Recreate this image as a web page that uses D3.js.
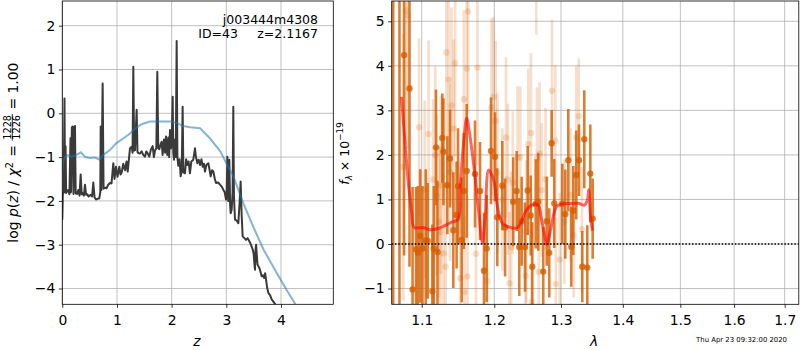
<!DOCTYPE html>
<html>
<head>
<meta charset="utf-8">
<script src="https://cdn.jsdelivr.net/npm/d3@7.9.0/dist/d3.min.js"></script>
<style>
  body { margin: 0; background: #fff; }
  svg { display: block; font-family: "DejaVu Sans", sans-serif; }
</style>
</head>
<body>
<svg id="chart" width="800" height="350"></svg>
<script>
// ---- left panel: log p(z) and prior ----
const pzCurve = [
  [0.000,-2.43],[0.010,-1.85],[0.025,-1.79],[0.040,0.34],[0.050,-1.80],[0.060,-0.75],[0.070,-1.82],
  [0.090,-1.78],[0.110,-1.75],[0.130,-1.85],[0.150,-0.57],[0.160,-1.80],[0.175,-0.32],[0.190,-0.30],
  [0.205,-1.84],[0.220,-0.32],[0.232,-0.29],[0.245,-1.83],[0.270,-1.84],[0.293,-1.75],[0.315,-1.88],
  [0.336,-1.40],[0.355,-1.85],[0.372,-1.82],[0.395,-1.88],[0.415,-1.63],[0.435,-1.86],[0.458,-1.85],
  [0.480,-1.90],[0.519,-1.86],[0.545,-1.90],[0.567,-1.58],[0.590,-1.92],[0.616,-1.97],[0.650,-1.95],
  [0.677,-1.94],[0.695,-1.80],[0.702,-0.30],[0.715,-1.75],[0.738,0.68],[0.755,-1.72],[0.763,-1.71],
  [0.790,-1.70],[0.811,-1.71],[0.840,-1.63],[0.872,-1.59],[0.900,-1.60],[0.933,-1.14],[0.955,-1.50],
  [0.982,-1.22],[1.010,-1.45],[1.043,-1.22],[1.065,-1.40],[1.086,-1.35],[1.115,-1.15],[1.147,-1.30],
  [1.175,-1.10],[1.196,-1.33],[1.238,-0.80],[1.269,-0.76],[1.285,-0.90],[1.299,1.06],[1.315,-0.85],
  [1.330,-0.84],[1.360,0.08],[1.375,-0.88],[1.391,-0.91],[1.420,-0.92],[1.452,-0.87],[1.480,-0.95],
  [1.513,-0.99],[1.535,-0.87],[1.555,-0.90],[1.575,-0.95],[1.592,-0.99],[1.620,-0.83],[1.653,-0.75],
  [1.675,-1.00],[1.695,-0.85],[1.720,-0.80],[1.738,0.95],[1.755,-0.80],[1.775,-0.82],[1.800,-0.70],
  [1.817,-0.65],[1.835,-0.95],[1.860,-0.60],[1.880,-0.90],[1.897,-0.53],[1.920,-0.95],[1.940,-0.55],
  [1.955,-1.00],[1.970,-0.38],[1.990,-0.80],[2.005,-0.45],[2.019,0.38],[2.030,-0.90],[2.043,-1.06],
  [2.060,-0.60],[2.075,-1.00],[2.092,1.65],[2.105,-1.00],[2.122,-1.20],[2.145,-1.05],[2.165,-1.44],
  [2.185,-1.30],[2.201,0.15],[2.215,-1.35],[2.244,-1.37],[2.265,-1.05],[2.287,-1.18],[2.310,-1.10],
  [2.335,-1.37],[2.360,-1.10],[2.396,-1.06],[2.427,-0.80],[2.445,-1.00],[2.470,-1.14],[2.495,-1.06],
  [2.519,-1.18],[2.545,-1.05],[2.568,-1.22],[2.590,-1.15],[2.610,-1.33],[2.635,-1.18],[2.671,-1.14],
  [2.695,-1.30],[2.714,-1.44],[2.740,-1.30],[2.763,-1.33],[2.790,-1.50],[2.812,-1.59],[2.850,-1.58],
  [2.884,-1.63],[2.920,-1.68],[2.946,-1.75],[2.970,-1.80],[2.994,-1.97],[3.005,-1.90],[3.019,-0.99],
  [3.035,-2.00],[3.055,-1.06],[3.070,-2.10],[3.080,-2.28],[3.098,-2.20],[3.115,-1.80],[3.128,0.15],
  [3.140,-1.90],[3.159,-2.43],[3.190,-2.45],[3.220,-2.51],[3.245,-2.00],[3.262,-1.56],[3.280,-2.30],
  [3.299,-2.81],[3.330,-2.85],[3.360,-2.89],[3.390,-2.85],[3.421,-2.92],[3.450,-3.00],[3.482,-3.11],
  [3.500,-3.20],[3.515,-3.45],[3.525,-3.57],[3.535,-3.10],[3.545,-3.00],[3.555,-3.19],[3.570,-3.45],
  [3.586,-3.49],[3.610,-3.55],[3.647,-3.72],[3.670,-3.70],[3.690,-3.76],[3.710,-3.65],[3.726,-3.80],
  [3.750,-4.00],[3.769,-4.10],[3.800,-4.15],[3.830,-4.25],[3.860,-4.30],[3.891,-4.35],[3.950,-4.50]
];

const priorCurve = [
  [0.007,-1.29],[0.020,-1.06],[0.080,-0.95],[0.170,-0.99],[0.260,-0.95],[0.340,-0.89],[0.420,-1.00],
  [0.510,-1.02],[0.600,-1.01],[0.680,-1.06],[0.750,-0.95],[0.870,-0.84],[0.990,-0.68],[1.120,-0.57],
  [1.240,-0.46],[1.330,-0.35],[1.450,-0.25],[1.600,-0.19],[1.790,-0.19],[1.970,-0.19],[2.090,-0.22],
  [2.210,-0.29],[2.340,-0.32],[2.520,-0.34],[2.700,-0.57],[2.890,-0.87],[3.000,-1.14],[3.130,-1.44],
  [3.310,-2.05],[3.490,-2.58],[3.680,-3.11],[3.920,-3.64],[4.100,-4.03],[4.270,-4.37],[4.400,-4.65]
];

const zTicks = [0, 1, 2, 3, 4];
const logpTicks = [-4, -3, -2, -1, 0, 1, 2];

// ---- right panel: spectrum [wavelength, flux, error] ----
const fluxDark = [
  [1.063,6.00,8.0],[1.071,-1.80,7.5],[1.077,4.24,4.5],[1.084,3.49,4.0],[1.088,-1.02,2.3],[1.0925,-0.12,1.4],
  [1.095,-0.20,1.5],[1.098,0.18,1.5],[1.101,-0.10,1.4],[1.1053,0.08,1.6],[1.108,0.07,1.3],[1.1141,-1.06,1.5],
  [1.116,-0.10,1.4],[1.119,2.17,1.3],[1.121,-0.18,1.6],[1.1275,2.38,1.0],[1.129,2.07,1.2],[1.1343,1.32,1.1],
  [1.138,1.92,1.1],[1.1425,0.31,1.3],[1.147,0.65,1.2],[1.149,1.30,1.3],[1.154,0.09,1.4],[1.157,1.19,1.3],
  [1.161,1.64,1.5],[1.1726,1.57,1.2],[1.1797,1.19,1.1],[1.1853,-0.60,1.3],[1.1891,-0.10,1.2],[1.1953,2.09,1.2],
  [1.201,1.96,1.0],[1.2043,0.60,1.1],[1.2116,1.31,1.0],[1.2156,0.37,1.1],[1.2276,0.95,1.0],[1.2327,1.19,0.9],
  [1.2365,-0.07,1.1],[1.2401,0.51,1.0],[1.2451,-0.07,1.0],[1.2491,1.20,1.0],[1.2536,0.64,0.9],[1.256,-0.51,1.0],
  [1.2611,0.90,1.0],[1.265,0.95,1.1],[1.2726,-0.62,1.0],[1.2779,0.51,1.0],[1.2818,-0.20,1.0],[1.2855,2.26,0.75],
  [1.2895,0.91,1.0],[1.302,0.90,0.9],[1.3067,0.67,1.0],[1.3114,1.88,1.15],[1.3161,-0.06,0.9],[1.3193,0.75,1.0],
  [1.324,1.55,1.0],[1.3283,1.88,0.8],[1.3336,-0.51,0.8],[1.3368,2.35,1.1],[1.3416,-0.53,0.95],[1.3465,1.58,1.1],
  [1.3503,0.57,0.9]
];

const fluxLight = [
  [1.0795,5.25,3.0],[1.082,5.13,3.0],[1.076,1.73,3.0],[1.0965,2.62,2.0],[1.104,1.22,2.0],[1.109,2.47,2.1],
  [1.115,1.45,1.8],[1.118,1.99,2.0],[1.120,1.09,1.8],[1.123,0.50,1.7],[1.125,0.27,1.9],[1.1255,1.32,2.0],
  [1.129,-0.21,1.8],[1.132,-0.51,1.9],[1.133,4.30,1.9],[1.136,3.69,2.1],[1.138,1.61,2.0],[1.140,3.11,2.2],
  [1.143,2.59,2.0],[1.145,4.06,2.1],[1.152,-0.77,1.7],[1.157,3.25,2.0],[1.158,-1.08,1.7],[1.161,3.94,2.2],
  [1.162,-0.73,1.8],[1.163,5.22,2.3],[1.174,-0.22,1.8],[1.176,3.96,2.2],[1.190,-0.83,1.7],[1.196,3.07,2.0],
  [1.199,3.30,1.8],[1.202,2.76,1.8],[1.2045,1.60,1.8],[1.2116,1.00,1.6],[1.217,2.39,1.8],[1.2197,1.45,1.7],
  [1.222,-0.88,1.6],[1.2245,-0.07,1.7],[1.227,1.38,1.6],[1.234,1.94,1.6],[1.238,1.94,1.6],[1.246,-0.71,1.6],
  [1.247,0.28,1.6],[1.250,2.24,1.7],[1.254,2.49,1.8],[1.255,-1.30,1.6],[1.262,6.20,1.5],[1.263,1.92,1.6],
  [1.2658,-0.63,1.6],[1.267,2.03,1.6],[1.270,1.21,1.5],[1.276,1.46,1.6],[1.286,3.44,1.6],[1.291,2.32,1.7],
  [1.292,-0.90,1.5],[1.298,-0.35,1.5],[1.305,0.50,1.4],[1.315,1.10,1.5],[1.320,0.20,1.4],[1.324,2.39,1.6],
  [1.328,2.87,1.3],[1.333,0.33,1.4]
];

const modelLine = [
  [1.0735,3.30],[1.078,2.33],[1.0825,1.37],[1.087,0.69],[1.090,0.37],[1.102,0.37],[1.111,0.32],[1.124,0.36],
  [1.140,0.49],[1.149,0.55],[1.152,1.29],[1.157,2.33],[1.161,2.82],[1.165,2.48],[1.1726,1.52],[1.178,0.69],
  [1.183,0.03],[1.187,0.62],[1.192,1.66],[1.199,1.44],[1.2045,0.84],[1.2116,0.47],[1.2216,0.38],[1.233,0.36],
  [1.240,0.51],[1.246,0.73],[1.255,0.87],[1.265,0.87],[1.269,0.62],[1.274,0.25],[1.278,-0.01],[1.284,0.33],
  [1.293,0.84],[1.302,0.90],[1.319,0.91],[1.329,0.91],[1.337,0.87],[1.342,1.00],[1.344,1.22],[1.347,0.60],
  [1.350,0.30]
];

const waveTicks = [1.1, 1.2, 1.3, 1.4, 1.5, 1.6, 1.7];
const fluxTicks = [-1, 0, 1, 2, 3, 4, 5];

const FS = 13.9;
const grism = '#d55e00';
const svg = d3.select('#chart');

const left = { x0: 62.3, x1: 333.3, y0: 1, y1: 304.3 };
const right = { x0: 391.7, x1: 798.8, y0: 1, y1: 304.3 };

const xZ = d3.scaleLinear().domain([0, 4.957]).range([left.x0, left.x1]);
const yP = d3.scaleLinear().domain([-4.361, 2.564]).range([left.y1, left.y0]);
const xW = d3.scaleLog().domain([1.0611, 1.729]).range([right.x0, right.x1]);
const yF = d3.scaleLinear().domain([-1.354, 5.455]).range([right.y1, right.y0]);

function clip(id, p) {
  svg.append('clipPath').attr('id', id)
    .append('rect').attr('x', p.x0).attr('y', p.y0)
    .attr('width', p.x1 - p.x0).attr('height', p.y1 - p.y0);
}
clip('clipL', left);
clip('clipR', right);

function grid(p, xs, ys, xt, yt) {
  const g = svg.append('g').attr('stroke', '#b0b0b0').attr('stroke-width', 0.8);
  g.selectAll('.gx').data(xt).join('line')
    .attr('x1', d => xs(d)).attr('x2', d => xs(d)).attr('y1', p.y0).attr('y2', p.y1);
  g.selectAll('.gy').data(yt).join('line')
    .attr('y1', d => ys(d)).attr('y2', d => ys(d)).attr('x1', p.x0).attr('x2', p.x1);
}

function axes(p, xs, ys, xt, yt, xfmt) {
  const gx = svg.append('g').attr('transform', `translate(0,${p.y1})`)
    .call(d3.axisBottom(xs).tickValues(xt).tickFormat(xfmt).tickSize(3.5).tickSizeOuter(0));
  const gy = svg.append('g').attr('transform', `translate(${p.x0},0)`)
    .call(d3.axisLeft(ys).tickValues(yt).tickFormat(d3.format('d')).tickSize(3.5).tickPadding(3.5).tickSizeOuter(0));
  for (const g of [gx, gy]) {
    g.attr('font-family', 'DejaVu Sans').attr('font-size', FS);
    g.select('.domain').remove();
    g.selectAll('line').attr('stroke-width', 0.8);
    g.selectAll('text').attr('fill', '#000');
  }
  gx.selectAll('text').attr('y', 20.5).attr('dy', null);
  svg.append('rect').attr('x', p.x0).attr('y', p.y0)
    .attr('width', p.x1 - p.x0).attr('height', p.y1 - p.y0)
    .attr('fill', 'none').attr('stroke', '#000').attr('stroke-width', 0.8);
}

// rotated label made of pieces laid out one after another
function rotLabel(cx, cy, parts, size) {
  const outer = svg.append('g').attr('transform', `translate(${cx},${cy}) rotate(-90)`);
  const g = outer.append('g');
  let x = 0;
  for (const p of parts) {
    if (p.frac) {
      const fs = size * 0.7;
      const a = g.append('text').attr('font-size', fs).attr('y', -7.3).text(p.frac[0]);
      const b = g.append('text').attr('font-size', fs).attr('y', 1.7).text(p.frac[1]);
      const w = Math.max(a.node().getComputedTextLength(), b.node().getComputedTextLength()) + 2;
      a.attr('x', x + w / 2).attr('text-anchor', 'middle');
      b.attr('x', x + w / 2).attr('text-anchor', 'middle');
      g.append('line').attr('x1', x).attr('x2', x + w).attr('y1', -6).attr('y2', -6)
        .attr('stroke', '#000').attr('stroke-width', 0.8);
      x += w;
      continue;
    }
    const t = g.append('text').attr('x', x).attr('y', p.dy || 0)
      .attr('font-size', size * (p.scale || 1))
      .attr('font-style', p.it ? 'italic' : 'normal')
      .attr('xml:space', 'preserve')
      .text(p.t);
    x += t.node().getComputedTextLength() + (p.gap || 0);
  }
  g.attr('transform', `translate(${-x / 2},0)`);
}

// ---- left panel ----
grid(left, xZ, yP, zTicks, logpTicks);

const lineL = d3.line().x(d => xZ(d[0])).y(d => yP(d[1]));
const plotL = svg.append('g').attr('clip-path', 'url(#clipL)');
plotL.append('path').datum(pzCurve).attr('d', lineL)
  .attr('fill', 'none').attr('stroke', '#3a3a3a').attr('stroke-width', 2).attr('stroke-linejoin', 'round');
plotL.append('path').datum(priorCurve).attr('d', lineL)
  .attr('fill', 'none').attr('stroke', '#1f77b4').attr('stroke-opacity', 0.55).attr('stroke-width', 2);

axes(left, xZ, yP, zTicks, logpTicks, d3.format('d'));

svg.append('text').attr('x', 318).attr('y', 24).attr('text-anchor', 'end')
  .attr('font-size', 12.5).text('j003444m4308');
svg.append('text').attr('x', 238).attr('y', 38.3).attr('text-anchor', 'end')
  .attr('font-size', 12.5).text('ID=43');
svg.append('text').attr('x', 318).attr('y', 38.3).attr('text-anchor', 'end')
  .attr('font-size', 12.5).text('z=2.1167');

svg.append('text').attr('x', 197).attr('y', 345.5).attr('text-anchor', 'middle')
  .attr('font-size', FS).attr('font-style', 'italic').text('z');

rotLabel(18.3, 152.6, [
  { t: 'log ' }, { t: 'p', it: true }, { t: '(' }, { t: 'z', it: true }, { t: ') / ' },
  { t: 'χ', it: true }, { t: '2', scale: 0.7, dy: -5.5, gap: 1 }, { t: ' = ' },
  { frac: ['1228', '1226'] }, { t: ' = 1.00' }
], FS);

// ---- right panel ----
grid(right, xW, yF, waveTicks, fluxTicks);

const plotR = svg.append('g').attr('clip-path', 'url(#clipR)');

function errSeries(data, op, w) {
  const g = plotR.append('g');
  g.selectAll('line').data(data).join('line')
    .attr('x1', d => xW(d[0])).attr('x2', d => xW(d[0]))
    .attr('y1', d => yF(d[1] - d[2])).attr('y2', d => yF(d[1] + d[2]))
    .attr('stroke', grism).attr('stroke-opacity', op).attr('stroke-width', w);
  g.selectAll('circle').data(data).join('circle')
    .attr('cx', d => xW(d[0])).attr('cy', d => yF(d[1])).attr('r', 3.2)
    .attr('fill', grism).attr('fill-opacity', op);
}
errSeries(fluxLight, 0.2, 2.7);
errSeries(fluxDark, 0.8, 2.6);

plotR.append('path').datum(modelLine)
  .attr('d', d3.line().x(d => xW(d[0])).y(d => yF(d[1])).curve(d3.curveCatmullRom))
  .attr('fill', 'none').attr('stroke', '#ff0000').attr('stroke-opacity', 0.6)
  .attr('stroke-width', 3).attr('stroke-linejoin', 'round');

plotR.append('line').attr('x1', right.x0).attr('x2', right.x1)
  .attr('y1', yF(0)).attr('y2', yF(0))
  .attr('stroke', '#000').attr('stroke-width', 1.5).attr('stroke-dasharray', '1.5,1.8');

axes(right, xW, yF, waveTicks, fluxTicks, d3.format('.1f'));

svg.append('text').attr('x', 594).attr('y', 346).attr('text-anchor', 'middle')
  .attr('font-size', FS).attr('font-style', 'italic').text('λ');

rotLabel(348.5, 153.5, [
  { t: 'f', it: true }, { t: 'λ', it: true, scale: 0.7, dy: 3 }, { t: ' × 10' },
  { t: '−19', scale: 0.7, dy: -5.5 }
], 12.5);

svg.append('text').attr('x', 787).attr('y', 342).attr('text-anchor', 'end')
  .attr('font-size', 6.9).text('Thu Apr 23 09:32:00 2020');
</script>
</body>
</html>
